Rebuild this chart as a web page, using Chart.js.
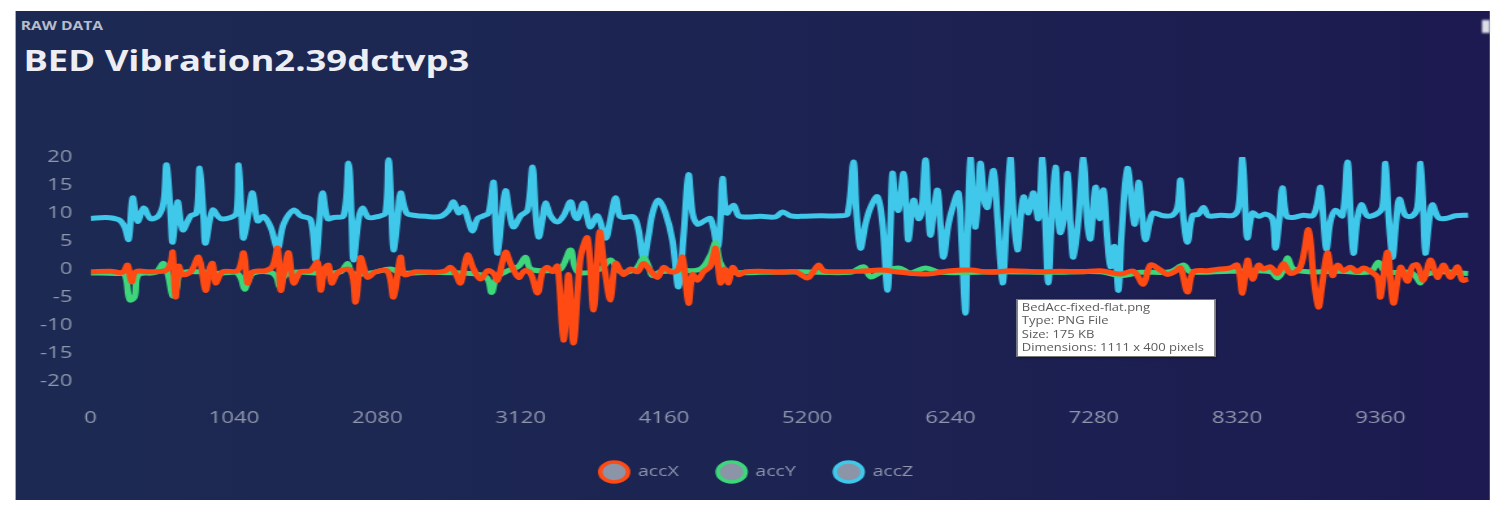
<!DOCTYPE html>
<html>
<head>
<meta charset="utf-8">
<title>BED Vibration2.39dctvp3</title>
<script src="https://cdn.jsdelivr.net/npm/chart.js@4.4.1/dist/chart.umd.min.js"></script>
<style>
  html, body { margin: 0; padding: 0; background: #fff; overflow: hidden; width: 1503px; height: 517px; }
  /* the reference is stretched sideways, so the whole stage is scaled in x */
  #stage { position: absolute; left: 0; top: 0; width: 1160px; height: 517px;
           transform: scaleX(1.3); transform-origin: 0 0; font-family: 'Open Sans', sans-serif; }
  .panel { position: absolute; left: 11.5px; top: 11px; width: 1134.6px; height: 489px;
           background: linear-gradient(90deg, #1c2a53 0%, #1c2452 50%, #1c1a50 100%); }
  .kicker { position: absolute; left: 16px; top: 20px; font-size: 12px; line-height: 12px;
            font-weight: 700; color: #b7bccb; }
  .title { position: absolute; left: 18px; top: 46px; font-size: 28px; line-height: 28px;
           font-weight: 700; color: #eceef4; white-space: nowrap; }
  .wrap { position: absolute; left: 11.5px; top: 11px; width: 1140.1px; height: 489px; }
  .filetip { position: absolute; left: 782px; top: 299px; width: 153px; height: 58px; box-sizing: border-box;
             background: #fff; border: 1px solid #767676; box-shadow: 1px 1px 2px rgba(0,0,0,.45);
             font-size: 10px; line-height: 13.3px; color: #5a5a5a; padding: 1px 3px; white-space: nowrap; overflow: hidden; }
  .corner { position: absolute; left: 1140px; top: 20px; width: 5.5px; height: 13px; background: #dcdde6; filter: blur(0.8px); }
</style>
</head>
<body>
<div id="stage">
  <div class="panel"></div>
  <div class="kicker">RAW DATA</div>
  <div class="title">BED Vibration2.39dctvp3</div>
  <div class="corner"></div>
  <div class="wrap"><canvas id="chart-raw"></canvas></div>
  <div class="filetip">BedAcc-fixed-flat.png<br>Type: PNG File<br>Size: 175 KB<br>Dimensions: 1111 x 400 pixels</div>
</div>
<script>
// [sample, value] pairs
const accX = [[0,-0.5],[145,-0.4],[232,-0.6],[268,0.7],[297,-2.3],[327,-0.5],[435,-0.5],[544,-0.3],[580,1],[595,3],[617,-5],[639,0.5],[668,-1],[726,-0.5],[784,2.1],[834,-3.8],[863,0],[885,1],[907,-2.5],[958,-0.5],[1067,-0.3],[1110,2.9],[1139,-2.5],[1175,-0.5],[1270,-0.3],[1321,0.5],[1357,3.7],[1379,-3.8],[1408,0],[1437,2.9],[1473,-2.5],[1524,-0.5],[1596,-0.3],[1647,1.2],[1669,-3.8],[1698,0],[1727,0.7],[1749,-2.5],[1799,-0.5],[1887,-0.2],[1923,-5.9],[1959,2],[1981,0.5],[2010,-1.5],[2068,-0.5],[2155,-0.4],[2198,-5],[2249,2.1],[2278,-1],[2358,-0.5],[2503,-0.6],[2576,-0.3],[2612,0.3],[2648,-0.8],[2685,-2.5],[2735,2.5],[2779,0],[2830,-1.8],[2881,-0.3],[2924,-0.8],[2953,-2],[3011,3],[3047,1],[3106,-1.5],[3149,-0.3],[3193,-0.8],[3243,-4.3],[3280,-0.5],[3316,0.3],[3352,-0.5],[3388,0.5],[3432,-12.7],[3468,-1],[3505,-13.2],[3555,2],[3606,5.5],[3650,-7.3],[3693,6.6],[3730,0],[3773,-5.5],[3809,1],[3867,-1],[3918,0],[3969,-0.5],[4012,1],[4063,-0.3],[4114,-1.5],[4158,0.3],[4208,-0.5],[4259,-0.3],[4295,2.1],[4339,-6.1],[4368,-1],[4404,-2],[4448,-0.5],[4499,0.5],[4535,3.7],[4571,-2.5],[4600,0],[4629,-2.5],[4658,0.3],[4702,-1],[4752,-0.5],[4861,-0.4],[5007,-0.6],[5115,-0.5],[5202,-1.6],[5239,-0.7],[5282,0.7],[5318,-0.3],[5406,-0.5],[5587,-0.4],[5732,-0.2],[5877,-0.6],[6073,-0.9],[6240,-0.3],[6385,-0.2],[6530,-0.6],[6675,-0.3],[6893,-0.5],[7038,-0.4],[7183,-0.5],[7328,-0.3],[7473,-0.9],[7568,-0.4],[7640,-2.7],[7691,0.7],[7764,-0.2],[7815,-1.0],[7873,-0.4],[7909,0.2],[7960,-4.1],[8003,-0.5],[8105,-0.3],[8199,0],[8271,0.2],[8322,0.7],[8359,-4.3],[8395,1.6],[8431,-1.8],[8475,0.7],[8511,0],[8562,0.4],[8613,-0.8],[8656,1],[8707,-0.8],[8780,0.4],[8838,7],[8874,-1.2],[8910,-6.8],[8939,-2.5],[8975,2.9],[9012,-1.2],[9048,0.7],[9092,-0.3],[9143,0.3],[9193,-0.5],[9237,0.2],[9287,-0.4],[9338,-1.5],[9360,-5],[9411,3],[9454,-6.1],[9505,0.3],[9556,-2.2],[9592,0.5],[9628,0.7],[9672,-2],[9723,1.6],[9774,-1.5],[9817,0.7],[9868,-1.5],[9919,0.4],[9955,-2],[9998,-1.8]];

const accY = [[0,-0.7],[181,-0.8],[247,-1],[283,-5.5],[319,-5],[348,-1],[472,-0.6],[530,1],[566,-1.5],[595,-4.8],[624,-3.5],[653,-0.8],[798,-0.5],[907,-0.8],[1052,-0.6],[1088,-1.5],[1117,-3.6],[1146,-2],[1183,-0.7],[1306,-0.6],[1350,-1.5],[1371,-3.2],[1400,-1.5],[1451,-0.6],[1669,-0.7],[1814,-0.5],[1865,1],[1901,-0.8],[2032,-0.7],[2177,0],[2249,-0.7],[2467,-0.6],[2757,-0.8],[2873,-1.5],[2910,-4.2],[2946,-1.5],[3011,-0.5],[3106,0.5],[3156,2.1],[3193,0],[3301,-0.3],[3410,0],[3483,3.4],[3534,-0.5],[3700,0],[3773,1.6],[3846,-0.5],[3954,0],[4012,2],[4049,0.5],[4078,-1.2],[4136,-0.5],[4281,-0.3],[4426,0],[4499,2.5],[4535,4.7],[4571,1],[4629,-0.5],[4861,-0.6],[5152,-0.5],[5514,-0.6],[5609,0.4],[5660,-1.4],[5732,-0.6],[5863,0.2],[5950,-0.7],[6059,0.2],[6167,-0.6],[6603,-0.5],[6966,-0.6],[7328,-0.5],[7473,-1.2],[7619,-0.6],[7836,-0.5],[7931,0.7],[7981,-0.5],[8271,-0.4],[8562,-0.5],[8613,-1.6],[8649,-0.5],[8685,2],[8729,0],[8852,-0.5],[9070,-0.4],[9287,-0.5],[9345,1.2],[9396,-0.5],[9578,-0.6],[9621,-1.5],[9650,-2.5],[9679,-1.2],[9795,-0.5],[9998,-0.8]];

const accZ = [[0,9.0],[109,9.2],[203,8.8],[247,7.5],[276,5.3],[305,12.7],[341,8.5],[385,10.9],[435,9.0],[493,9.5],[530,12],[551,18.6],[580,10],[595,4.8],[631,12],[668,7.0],[726,9.5],[769,10],[791,18],[820,9],[834,4.6],[885,10.5],[943,9.0],[1016,9.2],[1059,10],[1074,18.6],[1096,9],[1110,5.5],[1146,10],[1175,13.6],[1212,8.6],[1255,9.4],[1306,7.5],[1357,3.7],[1400,8],[1473,10.5],[1524,9.5],[1596,8.8],[1633,1.6],[1662,9],[1683,13.6],[1720,9],[1763,9.2],[1836,9.5],[1872,18.9],[1894,9],[1908,1.6],[1945,9],[1974,10.9],[2017,9.2],[2090,9.4],[2140,10],[2162,19.5],[2184,10],[2198,3.4],[2228,9],[2249,13.6],[2293,10],[2344,9.6],[2431,9.4],[2540,9.4],[2598,10.5],[2634,12],[2670,10],[2706,11],[2743,8.5],[2772,6.8],[2808,9],[2851,9.5],[2888,10],[2924,15.5],[2939,8],[2953,2.8],[2982,9],[3011,14],[3040,10],[3069,7.5],[3120,9.5],[3171,10.5],[3207,18.2],[3229,10],[3251,5.7],[3280,9],[3301,11.8],[3338,9.5],[3388,8.4],[3432,9.5],[3483,12],[3512,9.5],[3534,9],[3577,11.8],[3606,9],[3628,7.5],[3679,9.5],[3737,5.5],[3773,9],[3809,12.7],[3838,9.5],[3867,9.2],[3940,9.3],[3976,7],[4012,1.6],[4049,6],[4078,10],[4121,12.3],[4172,10],[4223,5],[4266,-3.2],[4303,6],[4339,16.8],[4368,10],[4404,8],[4448,8.5],[4499,9],[4549,3.9],[4571,9],[4586,16.2],[4615,10],[4666,11.4],[4702,9.5],[4752,9.3],[4861,9.4],[4970,9.3],[5021,10.2],[5079,9.5],[5152,9.4],[5297,9.5],[5442,9.5],[5493,9.8],[5536,19.1],[5558,10],[5587,3.7],[5623,8],[5660,11],[5710,12.9],[5747,8],[5783,-3.8],[5805,8],[5819,17.1],[5841,12],[5863,10.5],[5899,17.1],[5921,10],[5935,5.2],[5972,12.3],[6008,9],[6029,10],[6059,19.5],[6080,10],[6095,6],[6117,10],[6146,14.1],[6167,8],[6189,2.1],[6225,8],[6262,11.5],[6298,13.6],[6320,5],[6349,-7.9],[6363,5],[6385,19.8],[6407,10],[6421,7.5],[6443,14],[6458,18.9],[6487,12],[6509,11],[6552,17.6],[6581,9],[6617,-2.5],[6646,8],[6675,19.8],[6697,10],[6726,3.4],[6748,9],[6770,12.9],[6806,10],[6842,13.6],[6878,9],[6907,19.8],[6929,8],[6950,-2.5],[6972,8],[7002,18.2],[7023,9],[7038,6.5],[7067,10],[7089,17.1],[7111,8],[7132,2.1],[7169,9],[7205,19.8],[7234,8],[7256,5.4],[7292,14.6],[7321,9],[7350,14.1],[7379,5],[7401,0.4],[7430,4],[7459,-3.8],[7481,6],[7524,18],[7575,8],[7604,15.5],[7633,9],[7655,5.2],[7691,9],[7713,10],[7785,9.5],[7851,9.6],[7887,11],[7909,15.9],[7931,9],[7960,4.8],[7996,9.5],[8040,9.8],[8076,11],[8112,9.5],[8199,9.6],[8293,9.6],[8330,11],[8359,19.8],[8381,10],[8395,5.5],[8431,10],[8475,9.4],[8526,9.8],[8576,9],[8598,3.7],[8627,9],[8649,14.5],[8678,9.5],[8721,9.2],[8801,9.6],[8866,9.5],[8895,11],[8925,14.6],[8946,9],[8968,3.5],[8997,8.5],[9034,10.5],[9084,9.5],[9121,19.1],[9143,10],[9164,2.8],[9193,9],[9222,11.5],[9266,9.5],[9331,9.8],[9374,11],[9396,18.9],[9418,10],[9447,2.1],[9476,9],[9498,12.5],[9541,9.6],[9592,9.5],[9628,11],[9650,18.9],[9672,10],[9686,2.8],[9715,9],[9737,11.5],[9780,9.2],[9831,9.0],[9904,9.5],[9998,9.6]];

const seriesNames = ['accX', 'accY', 'accZ'];
const seriesColors = ['#ff4a14', '#3dd67a', '#40c8ea'];
const xTicks = [0, 1040, 2080, 3120, 4160, 5200, 6240, 7280, 8320, 9360];
const xMax = 10000;
const yMin = -20, yMax = 20, yStep = 5;

const tickColor = '#8f97ad';
const legendFill = '#8c94a7';

Chart.defaults.font.family = "'Open Sans', sans-serif";

const datasets = [accX, accY, accZ].map((rows, i) => ({
  label: seriesNames[i],
  data: rows.map(([x, y]) => ({ x, y })),
  borderColor: seriesColors[i],
  backgroundColor: legendFill,
  pointBackgroundColor: legendFill,
  pointBorderColor: seriesColors[i],
  pointBorderWidth: 3.5,
  borderWidth: 5,
  pointRadius: 0,
  pointHoverRadius: 0,
  tension: 0.35,
  fill: false,
}));

new Chart(document.getElementById('chart-raw').getContext('2d'), {
  type: 'line',
  data: { datasets },
  options: {
    responsive: true,
    maintainAspectRatio: false,
    animation: false,
    events: [],
    layout: { padding: { left: 0, right: 0, top: 146, bottom: 10.5 } },
    scales: {
      x: {
        type: 'linear', min: 0, max: xMax,
        grid: { display: false, drawTicks: false },
        border: { display: false },
        ticks: { color: tickColor, font: { size: 17 }, padding: 27, maxRotation: 0, autoSkip: false,
                 callback: v => String(v) },
        afterBuildTicks: s => { s.ticks = xTicks.map(value => ({ value })); },
        afterFit: s => { s.height = 53.5; },
      },
      y: {
        min: yMin, max: yMax,
        grid: { display: false, drawTicks: false },
        border: { display: false },
        ticks: { stepSize: yStep, color: tickColor, font: { size: 17 }, padding: 14 },
        afterFit: s => { s.width = 57.7; },
      },
      // empty spacer on the right so the legend sits where the original has it
      yPad: {
        position: 'right',
        grid: { display: false, drawTicks: false },
        border: { display: false },
        ticks: { display: false },
        afterFit: s => { s.width = 22.4; },
      },
    },
    plugins: {
      legend: {
        position: 'bottom',
        labels: { usePointStyle: true, pointStyle: 'circle', pointStyleWidth: 21.5, boxHeight: 14,
                  padding: 30, color: tickColor, font: { size: 15 } },
      },
      tooltip: { enabled: false },
    },
  },
});
</script>
</body>
</html>
